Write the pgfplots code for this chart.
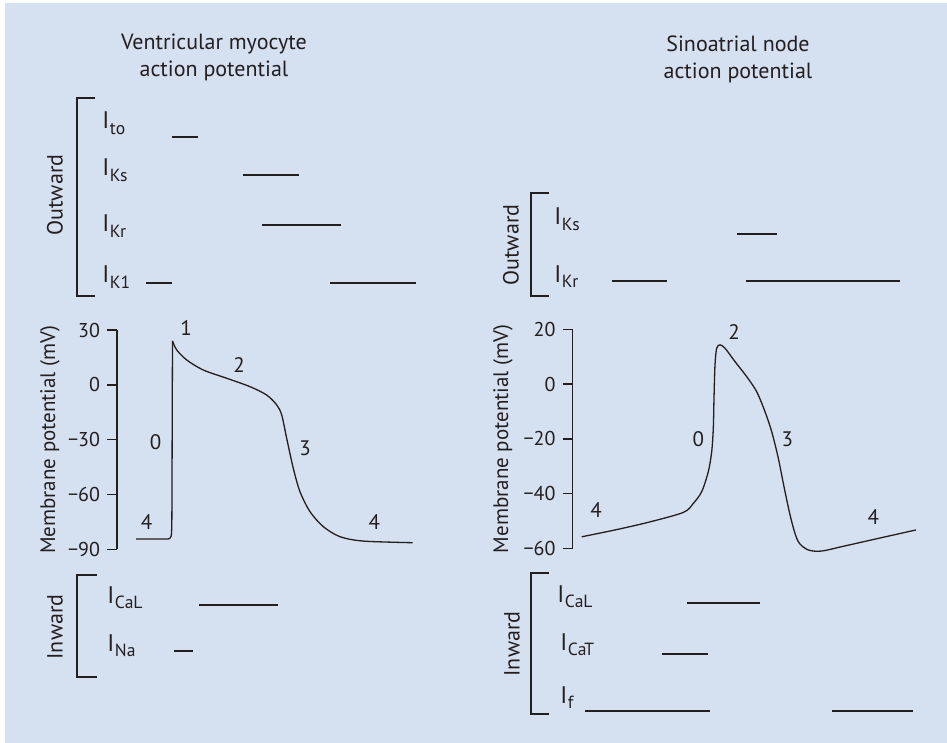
\documentclass[border=0pt]{standalone}
\usepackage{fontspec}
\setmainfont{PT Sans}
\usepackage{pgfplots}
\pgfplotsset{compat=1.18}
\definecolor{bg}{RGB}{213,224,240}
\definecolor{ink}{RGB}{35,31,32}
\newcommand\cur[1]{I\kern0.3pt\raisebox{-2.9pt}{\fontsize{8.8}{9}\selectfont #1}}
\pgfplotsset{
  bar/.style={ink, line width=0.85pt},
  brk/.style={ink, line width=0.65pt, line join=miter},
  ap/.style={ink, line width=0.65pt},
}
\tikzset{
  lab/.style={anchor=base west, inner sep=0pt, font=\fontsize{12}{13}\selectfont},
  ttl/.style={anchor=base, font=\fontsize{11}{13}\selectfont},
  side/.style={rotate=90, font=\fontsize{11}{13}\selectfont},
  ph/.style={font=\fontsize{10.5}{12}\selectfont},
}
\begin{document}
\begin{tikzpicture}[x=0.5pt,y=0.5pt,color=ink]
\useasboundingbox (0,0) rectangle (947,743);
\fill[white] (0,0) rectangle (947,743);
\fill[bg] (5,0) rectangle (947,740);

% ---------- overlay in pixel coordinates (y downwards): current bars, brackets, text ----------
\begin{axis}[at={(0pt,0pt)}, anchor=south west, scale only axis,
  width=473.5pt, height=371.5pt, xmin=0, xmax=947, ymin=0, ymax=743,
  y dir=reverse, hide axis, clip=false]
% left panel
\node[ttl] at (axis cs:214,50) {Ventricular myocyte};
\node[ttl] at (axis cs:214,77) {action potential};
\addplot[brk] coordinates {(95,98) (77,98) (77,296) (95,296)};
\node[side] at (axis cs:55,195) {Outward};
\node[lab] at (axis cs:102,129) {\cur{to}};
\node[lab] at (axis cs:102,176) {\cur{Ks}};
\node[lab] at (axis cs:102,232) {\cur{Kr}};
\node[lab] at (axis cs:102,283) {\cur{K1}};
\addplot[bar] coordinates {(172,137) (198,137)};
\addplot[bar] coordinates {(243,175) (299,175)};
\addplot[bar] coordinates {(262,225) (341,225)};
\addplot[bar] coordinates {(146,283) (172,283)};
\addplot[bar] coordinates {(330,283) (416,283)};
\addplot[brk] coordinates {(97,575) (77,575) (77,677) (97,677)};
\node[side] at (axis cs:55,627) {Inward};
\node[lab] at (axis cs:107,603) {\cur{CaL}};
\node[lab] at (axis cs:107,651) {\cur{Na}};
\addplot[bar] coordinates {(199,605) (278,605)};
\addplot[bar] coordinates {(174,651) (193,651)};
% phase numbers, left
\node[ph] at (axis cs:186,328) {1};
\node[ph] at (axis cs:239,365) {2};
\node[ph] at (axis cs:155.7,441.7) {0};
\node[ph] at (axis cs:305,448.3) {3};
\node[ph] at (axis cs:146.7,522.3) {4};
\node[ph] at (axis cs:374.3,522.3) {4};
% right panel
\node[ttl] at (axis cs:738,52) {Sinoatrial node};
\node[ttl] at (axis cs:738,79) {action potential};
\addplot[brk] coordinates {(549,193) (531,193) (531,296) (549,296)};
\node[side] at (axis cs:511,245) {Outward};
\node[lab] at (axis cs:554,225) {\cur{Ks}};
\node[lab] at (axis cs:554,282) {\cur{Kr}};
\addplot[bar] coordinates {(737,234) (777,234)};
\addplot[bar] coordinates {(612,281) (667,281)};
\addplot[bar] coordinates {(746,281) (900,281)};
\addplot[brk] coordinates {(549,573) (531,573) (531,714) (549,714)};
\node[side] at (axis cs:512,644) {Inward};
\node[lab] at (axis cs:557,602) {\cur{CaL}};
\node[lab] at (axis cs:560,650) {\cur{CaT}};
\node[lab] at (axis cs:560,703) {\cur{f}};
\addplot[bar] coordinates {(687,603) (760,603)};
\addplot[bar] coordinates {(662,654) (708,654)};
\addplot[bar] coordinates {(585,711) (710,711)};
\addplot[bar] coordinates {(832,711) (913,711)};
% phase numbers, right
\node[ph] at (axis cs:734,331.7) {2};
\node[ph] at (axis cs:698.3,439) {0};
\node[ph] at (axis cs:787.3,439) {3};
\node[ph] at (axis cs:596,510) {4};
\node[ph] at (axis cs:873.3,516.7) {4};
\end{axis}

% ---------- ventricular myocyte action potential ----------
\begin{axis}[at={(58.5pt,96.85pt)}, anchor=south west, scale only axis,
  width=150pt, height=109.65pt, xmin=0, xmax=300, ymin=-90, ymax=30,
  axis x line=none, axis y line*=left, xtick=\empty,
  ytick={-90,-60,-30,0,30}, yticklabels={−90,−60,−30,0,30},
  tick align=outside, major tick length=5pt,
  tick style={ink, line width=0.75pt}, axis line style={ink, line width=0.75pt},
  yticklabel style={font=\fontsize{10}{12}\selectfont},
  ylabel={Membrane potential (mV)},
  ylabel style={at={(axis description cs:-0.2233,0.5)}, anchor=center, font=\fontsize{10.5}{12}\selectfont},
  clip=false]
\addplot[ap] coordinates {(19,-84.4) (51,-84.4) (53,-83.9) (54.3,-82.6) (54.8,-78) (55,-60) (55.2,-20) (55.4,10) (55.5,24.0)};
\addplot[ap, smooth, tension=0.5] coordinates {(55.5,24.0) (59.7,19.1) (69.7,13.6) (86.3,8.1) (109.7,3.6) (133,-1.0) (149.7,-5.6) (159.7,-11.0) (164.7,-16.5) (169.7,-29.3) (176.3,-45.7) (183,-58.5) (193,-69.4) (206.3,-77.6) (223,-83.1) (246.3,-85.5) (295.7,-86.4)};
\end{axis}

% ---------- sinoatrial node action potential ----------
\begin{axis}[at={(286.25pt,97.35pt)}, anchor=south west, scale only axis,
  width=172.5pt, height=109.5pt, xmin=0, xmax=345, ymin=-60, ymax=20,
  axis x line=none, axis y line*=left, xtick=\empty,
  ytick={-60,-40,-20,0,20}, yticklabels={−60,−40,−20,0,20},
  tick align=outside, major tick length=5pt,
  tick style={ink, line width=0.75pt}, axis line style={ink, line width=0.75pt},
  yticklabel style={font=\fontsize{10}{12}\selectfont},
  ylabel={Membrane potential (mV)},
  ylabel style={at={(axis description cs:-0.2015,0.5)}, anchor=center, font=\fontsize{10.5}{12}\selectfont},
  clip=false]
\addplot[ap, smooth, tension=0.5] coordinates {(9.2,-55.8) (42.5,-53.3) (75.8,-50.5) (110.8,-46.9) (120.8,-43.6) (129.2,-39.3) (135.8,-32.0) (139.2,-24.7) (140.8,-16.2) (141.5,-5.2) (142.5,7.0) (144.2,13.1) (147.5,14.3) (152.5,13.1) (162.5,8.2) (174.2,2.7) (184.2,-2.8) (192.5,-10.1) (199.2,-17.4) (205.8,-27.1) (212.5,-39.3) (219.2,-50.3) (225.8,-57.6) (235.8,-60.6) (249.2,-61.0) (269.2,-59.4) (309.2,-56.1) (343.5,-53.3)};
\end{axis}
\end{tikzpicture}
\end{document}
